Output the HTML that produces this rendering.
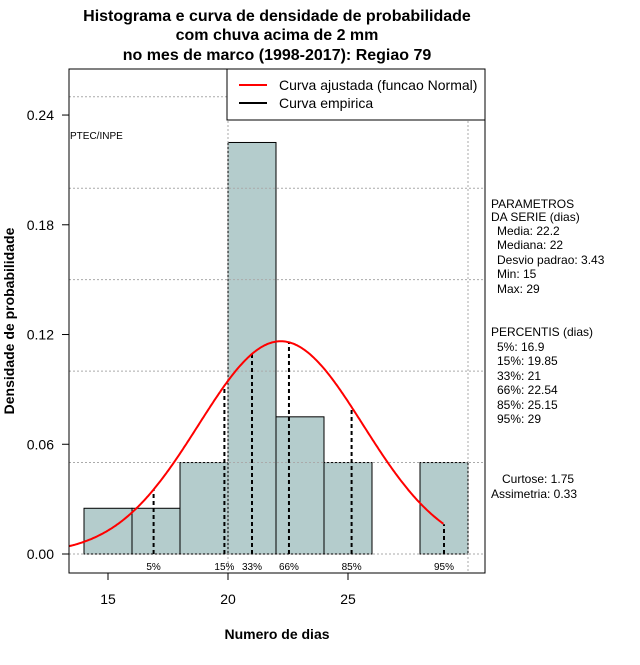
<!DOCTYPE html>
<html><head><meta charset="utf-8"><style>
body{margin:0;background:#fff;}
svg text{font-family:"Liberation Sans",sans-serif;}
</style></head><body>
<svg width="640" height="660" xmlns="http://www.w3.org/2000/svg">
<rect width="640" height="660" fill="#fff"/>
<g id="bars"></g>
<g id="grid"></g>
<g id="pct"></g>
<path id="curve" fill="none" stroke="#f00" stroke-width="2"/>
<rect x="69" y="69" width="416" height="504" fill="none" stroke="#000"/>
<g id="axes"></g>
<g font-weight="bold" font-size="16" text-anchor="middle">
<text x="277" y="21">Histograma e curva de densidade de probabilidade</text>
<text x="277" y="40">com chuva acima de 2 mm</text>
<text x="277" y="60">no mes de marco (1998-2017): Regiao 79</text>
</g>
<text x="277" y="639" font-size="14" font-weight="bold" text-anchor="middle">Numero de dias</text>
<text transform="translate(14,321) rotate(-90)" font-size="14" font-weight="bold" text-anchor="middle">Densidade de probabilidade</text>
<text x="70" y="139" font-size="10">PTEC/INPE</text>
<g>
<rect x="227" y="69" width="258" height="51" fill="#fff" stroke="#000"/>
<line x1="239" y1="85" x2="267" y2="85" stroke="#f00" stroke-width="2"/>
<line x1="239" y1="103" x2="267" y2="103" stroke="#000" stroke-width="2"/>
<text x="279" y="90" font-size="14">Curva ajustada (funcao Normal)</text>
<text x="279" y="108" font-size="14">Curva empirica</text>
</g>
<g font-size="12">
<text x="491" y="208">PARAMETROS</text>
<text x="491" y="221">DA SERIE (dias)</text>
<text x="497" y="235">Media: 22.2</text>
<text x="497" y="249">Mediana: 22</text>
<text x="497" y="264">Desvio padrao: 3.43</text>
<text x="497" y="278">Min: 15</text>
<text x="497" y="293">Max: 29</text>
<text x="491" y="336">PERCENTIS (dias)</text>
<text x="497" y="351">5%: 16.9</text>
<text x="497" y="365">15%: 19.85</text>
<text x="497" y="380">33%: 21</text>
<text x="497" y="394">66%: 22.54</text>
<text x="497" y="409">85%: 25.15</text>
<text x="497" y="423">95%: 29</text>
<text x="502" y="483">Curtose: 1.75</text>
<text x="491" y="498">Assimetria: 0.33</text>
</g>
</svg>
<script>
const binStarts=[14,16,18,20,22,24,26,28];
const densities=[0.025,0.025,0.05,0.225,0.075,0.05,0,0.05];
const pctLabels=["5%","15%","33%","66%","85%","95%"];
const pctValues=[16.9,19.85,21,22.54,25.15,29];
const xTicks=[15,20,25];
const yTicks=[0,0.06,0.12,0.18,0.24];
const gridY=[0.05,0.1,0.15,0.2,0.25];
const gridX=[20,30];
const mean=22.2, sd=3.43, binW=2;
const X=v=>108+(v-15)*24;
const Y=v=>554-v*1829;
const NS="http://www.w3.org/2000/svg";
function mk(tag,attrs,parent){const e=document.createElementNS(NS,tag);for(const k in attrs)e.setAttribute(k,attrs[k]);document.getElementById(parent).appendChild(e);return e;}
const dens=x=>Math.exp(-0.5*((x-mean)/sd)**2)/(sd*Math.sqrt(2*Math.PI));
gridY.forEach(g=>{const l=mk('line',{x1:69,x2:485,y1:Y(g),y2:Y(g),stroke:'#aaa','stroke-dasharray':'2,2'},'grid');

});
gridX.forEach(g=>{const l=mk('line',{x1:X(g),x2:X(g),y1:69,y2:573,stroke:'#aaa','stroke-dasharray':'2,2'},'grid');

});
binStarts.forEach((b,i)=>{if(densities[i]<=0)return;
const r=mk('rect',{x:X(b),y:Y(densities[i]),width:X(b+binW)-X(b),height:Y(0)-Y(densities[i]),fill:'#b4cccc',stroke:'#000'},'bars');

});
const base=mk('line',{x1:69,x2:485,y1:Y(0),y2:Y(0),stroke:'#aaa','stroke-dasharray':'2,2'},'grid');


let d='';for(let x=13.375;x<=29.0001;x+=0.05){d+=(d?'L':'M')+X(x).toFixed(1)+','+Y(dens(x)).toFixed(1);}
document.getElementById('curve').setAttribute('d',d);
pctValues.forEach((p,i)=>{const l=mk('line',{x1:X(p),x2:X(p),y1:Y(0),y2:Y(dens(p)),stroke:'#000','stroke-width':2,'stroke-dasharray':'4,3'},'pct');


const t=mk('text',{x:X(p),y:570,'font-size':10,'text-anchor':'middle'},'pct');t.textContent=pctLabels[i];

});
xTicks.forEach(v=>{const l=mk('line',{x1:X(v),x2:X(v),y1:573,y2:580,stroke:'#000'},'axes');


const t=mk('text',{x:X(v),y:604,'font-size':14,'text-anchor':'middle'},'axes');t.textContent=v;

});
yTicks.forEach(v=>{const l=mk('line',{x1:62,x2:69,y1:Y(v),y2:Y(v),stroke:'#000'},'axes');


const t=mk('text',{x:54,y:Y(v)+5,'font-size':14,'text-anchor':'end'},'axes');t.textContent=v.toFixed(2);

});
</script>
</body></html>
